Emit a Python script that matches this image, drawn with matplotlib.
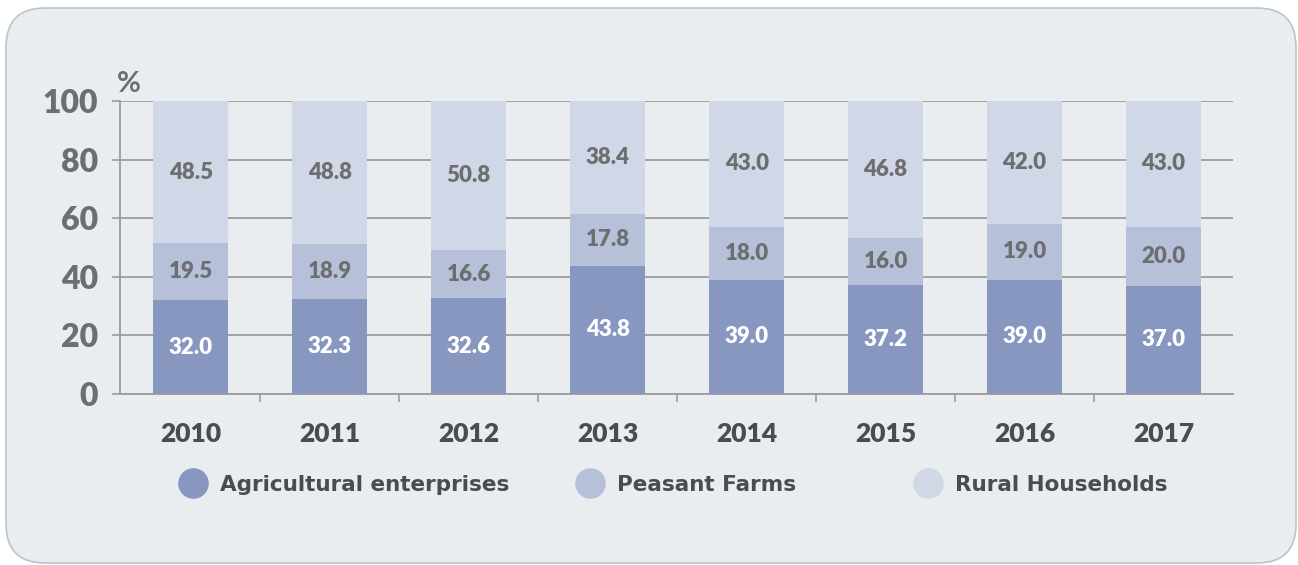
import numpy as np
import matplotlib.pyplot as plt
from matplotlib.patches import FancyBboxPatch
from matplotlib.lines import Line2D

# Datos
years = ['2010', '2011', '2012', '2013', '2014', '2015', '2016', '2017']
agri = [32.0, 32.3, 32.6, 43.8, 39.0, 37.2, 39.0, 37.0]
peasant = [19.5, 18.9, 16.6, 17.8, 18.0, 16.0, 19.0, 20.0]
rural = [48.5, 48.8, 50.8, 38.4, 43.0, 46.8, 42.0, 43.0]
names = ['Agricultural enterprises', 'Peasant Farms', 'Rural Households']

clr1 = '#8797bf'
clr2 = '#b6c1d9'
clr3 = '#d0d7e6'
txt = '#6d6e70'
dark = '#4a4d50'
plt.rcParams['font.family'] = ['Lato', 'DejaVu Sans']

fig = plt.figure(figsize=(12.98, 5.65), dpi=100)
fig.patch.set_facecolor('white')
panel = FancyBboxPatch((6/1298, 2/565), 1290/1298, 555/565,
                       boxstyle='round,pad=0,rounding_size=0.03',
                       transform=fig.transFigure, facecolor='#e9edf0',
                       edgecolor='#b9c5cd', linewidth=1.2, mutation_aspect=1298/565,
                       zorder=-1)
fig.patches.append(panel)

ax = fig.add_axes([120/1298, 1-394/565, 1113/1298, 293/565])
ax.set_facecolor('none')
x = np.arange(len(years))
w = 0.54
b1 = np.array(agri)
b2 = b1 + np.array(peasant)
ax.bar(x, agri, w, color=clr1, zorder=3)
ax.bar(x, peasant, w, bottom=b1, color=clr2, zorder=3)
ax.bar(x, rural, w, bottom=b2, color=clr3, zorder=3)

fw = 'heavy'
for i in range(len(years)):
    ax.text(x[i], agri[i]/2, f'{agri[i]:.1f}', ha='center', va='center',
            color='white', fontsize=16, fontweight=fw, zorder=4)
    ax.text(x[i], b1[i] + peasant[i]/2, f'{peasant[i]:.1f}', ha='center', va='center',
            color=txt, fontsize=16, fontweight=fw, zorder=4)
    ax.text(x[i], b2[i] + rural[i]/2, f'{rural[i]:.1f}', ha='center', va='center',
            color=txt, fontsize=16, fontweight=fw, zorder=4)

ax.set_xlim(-0.51, 7.5)
ax.set_ylim(0, 100)
ax.set_yticks(np.arange(0, 101, 20))
ax.yaxis.grid(True, color='#9c9c9c', linewidth=1.3, zorder=0)
ax.set_axisbelow(True)
ax.set_xticks(x)
ax.set_xticklabels(years)
ax.set_xticks(np.arange(0.5, 7.5, 1), minor=True)
ax.tick_params(axis='x', which='major', length=0, pad=20, labelsize=19, labelcolor=dark)
ax.tick_params(axis='x', which='minor', length=6, color='#9c9c9c', width=1.2)
ax.tick_params(axis='y', length=6, color='#9c9c9c', width=1.2, pad=10,
               labelsize=23, labelcolor=txt)
for lb in ax.get_xticklabels() + ax.get_yticklabels():
    lb.set_fontweight(fw)
for s in ['top', 'right']:
    ax.spines[s].set_visible(False)
for s in ['left', 'bottom']:
    ax.spines[s].set_color('#9c9c9c')
    ax.spines[s].set_linewidth(1.3)
ax.text(-0.45, 101.5, '%', fontsize=21, color=txt,
        fontweight='bold', ha='center', va='bottom')

# Leyenda
for nm, c, xp in zip(names, [clr1, clr2, clr3], [173/1298, 570/1298, 908/1298]):
    h = Line2D([], [], marker='o', linestyle='', markersize=21, color=c)
    lg = fig.legend([h], [nm], loc='center left', bbox_to_anchor=(xp - 0.012, 1-485/565),
                    frameon=False, handletextpad=0.5, handlelength=1.5,
                    prop={'size': 15.5, 'weight': 'bold', 'family': 'DejaVu Sans'})
    for t in lg.get_texts():
        t.set_color(dark)

fig.savefig('out.png', dpi=100)
